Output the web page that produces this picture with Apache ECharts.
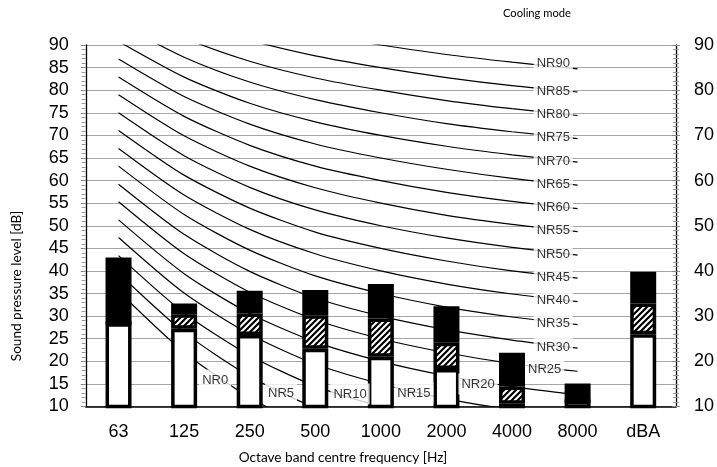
<!DOCTYPE html>
<html>
<head>
<meta charset="utf-8">
<script src="https://cdn.jsdelivr.net/npm/echarts@6/dist/echarts.min.js"></script>
<style>html,body{margin:0;padding:0;background:#fff}#c{width:717px;height:467px}</style>
</head>
<body>
<div id="c"></div>
<script>
// ---- data ----
const categories = ['63', '125', '250', '500', '1000', '2000', '4000', '8000', 'dBA'];
// top of each stacked segment [dB]
const whiteTop = [28.4, 27.2, 25.8, 22.8, 21.0, 18.3, 10.6, 11.2, 26.0];
const hatchTop = [28.4, 30.4, 30.6, 30.2, 29.5, 24.1, 14.4, 11.2, 32.8];
const barTotal = [43.0, 32.8, 35.6, 35.8, 37.1, 32.2, 21.9, 15.1, 39.8];
// NR curves (63 ... 8000 Hz)
const nrLevels = [0, 5, 10, 15, 20, 25, 30, 35, 40, 45, 50, 55, 60, 65, 70, 75, 80, 85, 90];
const nrValues = [
  [35.5, 22.0, 12.0, 4.8, 0, -3.5, -6.1, -8.0],
  [39.5, 26.4, 16.7, 9.7, 5, 1.6, -1.0, -2.9],
  [43.4, 30.7, 21.3, 14.5, 10, 6.7, 4.2, 2.3],
  [47.4, 35.1, 26.0, 19.4, 15, 11.7, 9.3, 7.5],
  [51.3, 39.4, 30.6, 24.3, 20, 16.8, 14.4, 12.6],
  [55.3, 43.8, 35.3, 29.2, 25, 21.9, 19.5, 17.8],
  [59.2, 48.1, 39.9, 34.0, 30, 27.0, 24.7, 22.9],
  [63.2, 52.5, 44.6, 38.9, 35, 32.0, 29.8, 28.1],
  [67.1, 56.8, 49.2, 43.8, 40, 37.1, 34.9, 33.2],
  [71.1, 61.2, 53.9, 48.6, 45, 42.2, 40.0, 38.4],
  [75.0, 65.5, 58.5, 53.5, 50, 47.3, 45.2, 43.5],
  [79.0, 69.9, 63.2, 58.4, 55, 52.3, 50.3, 48.7],
  [82.9, 74.2, 67.8, 63.2, 60, 57.4, 55.4, 53.8],
  [86.9, 78.6, 72.5, 68.1, 65, 62.5, 60.5, 59.0],
  [90.8, 82.9, 77.1, 73.0, 70, 67.6, 65.7, 64.1],
  [94.8, 87.3, 81.8, 77.9, 75, 72.6, 70.8, 69.3],
  [98.7, 91.6, 86.4, 82.7, 80, 77.7, 75.9, 74.4],
  [102.7, 96.0, 91.1, 87.6, 85, 82.8, 81.0, 79.6],
  [106.6, 100.3, 95.7, 92.5, 90, 87.9, 86.2, 84.7]
];
const yTicksLeft = { min: 10, max: 90, step: 5 };
const yTicksRight = { min: 10, max: 90, step: 10 };
// label anchor (category index) for each NR curve
const nrLabelAnchor = [2, 2, 4, 5, 6, 7, 7, 7, 7, 7, 7, 7, 7, 7, 7, 7, 7, 7, 7];

// ---- layout (label offsets, px) ----
const nrLabelOffset = [
  [-34.5, -17.5], [31.3, 17.1], [-30.8, -12.5], [-32.5, -5.5], [-34, -2.6], [-33, -2],
  [-24.3, -1], [-24.3, -1], [-24.3, -1], [-24.3, -1], [-24.3, -1], [-24.3, -1],
  [-24.3, -1], [-24.3, -1], [-24.3, -1], [-24.3, -1], [-24.3, -1], [-24.3, -1], [-24.3, -6]
];

// hatch tile: "/" stripes
function makeHatch() {
  const s = 6, c = document.createElement('canvas');
  c.width = s; c.height = s;
  const g = c.getContext('2d');
  g.fillStyle = '#fff'; g.fillRect(0, 0, s, s);
  g.strokeStyle = '#000'; g.lineWidth = 2.2; g.lineCap = 'square';
  g.beginPath();
  g.moveTo(-1, s + 1); g.lineTo(s + 1, -1);
  g.moveTo(-1, 1); g.lineTo(1, -1);
  g.moveTo(s - 1, s + 1); g.lineTo(s + 1, s - 1);
  g.stroke();
  return c;
}

const chart = echarts.init(document.getElementById('c'), null, { renderer: 'canvas' });
const AR = 'Liberation Sans, Arial, sans-serif';
const CAL = 'Lato, Open Sans, sans-serif';

const series = [];
nrLevels.forEach((lv, i) => {
  series.push({
    type: 'line', name: 'NR' + lv, data: nrValues[i], smooth: 0.25,
    symbol: 'none', clip: true, z: 2, silent: true,
    lineStyle: { color: '#000', width: 1.2 }
  });
});
const borderW = 3.5;
series.push({
  type: 'bar', name: 'white', stack: 'b', data: whiteTop, barWidth: 26, z: 3, clip: true,
  itemStyle: { color: '#fff', borderColor: '#000', borderWidth: borderW }
});
series.push({
  type: 'bar', name: 'hatch', stack: 'b', z: 3, clip: true,
  data: hatchTop.map((v, i) => +(v - whiteTop[i]).toFixed(2)),
  itemStyle: {
    color: { image: makeHatch(), repeat: 'repeat' },
    borderColor: '#000', borderWidth: borderW
  }
});
series.push({
  type: 'bar', name: 'black', stack: 'b', z: 3, clip: true,
  data: barTotal.map((v, i) => +(v - hatchTop[i]).toFixed(2)),
  itemStyle: { color: '#000', borderColor: '#000', borderWidth: borderW }
});
series.push({
  type: 'scatter', name: 'nrLabels', z: 10, clip: false, silent: true,
  symbolSize: 1, itemStyle: { color: 'rgba(0,0,0,0)' },
  data: nrLevels.map((lv, i) => ({
    value: [nrLabelAnchor[i], nrValues[i][nrLabelAnchor[i]]],
    label: { offset: nrLabelOffset[i] },
    name: 'NR' + lv
  })),
  label: {
    show: true, position: 'inside', formatter: p => p.name,
    fontFamily: AR, fontSize: 13, color: '#000',
    backgroundColor: '#fff', padding: [4, 3], align: 'center', verticalAlign: 'middle'
  }
});

chart.setOption({
  animation: false,
  backgroundColor: '#fff',
  grid: { left: 85.75, right: 38, top: 45, bottom: 60.5, containLabel: false },
  title: {
    text: 'Cooling mode', left: 503, top: 8, padding: 0,
    textStyle: { fontFamily: CAL, fontSize: 11.2, fontWeight: 'normal', color: '#000' }
  },
  xAxis: {
    type: 'category', data: categories, boundaryGap: true,
    axisLine: { lineStyle: { color: '#000', width: 1.5 } },
    axisTick: { show: false },
    axisLabel: { fontFamily: AR, fontSize: 18, color: '#000', margin: 17 },
    splitLine: { show: false }
  },
  yAxis: [
    {
      type: 'value', position: 'left', min: yTicksLeft.min, max: yTicksLeft.max, interval: yTicksLeft.step,
      axisLine: { show: true, lineStyle: { color: '#000', width: 1.3 } },
      axisTick: { show: true, length: 5, lineStyle: { color: '#888' } },
      minorTick: { show: true, splitNumber: 5, length: 4, lineStyle: { color: '#999' } },
      axisLabel: { fontFamily: AR, fontSize: 18, color: '#000', margin: 17 },
      splitLine: { show: true, lineStyle: { color: '#a6a6a6', width: 1 } }
    },
    {
      type: 'value', position: 'right', min: yTicksRight.min, max: yTicksRight.max, interval: yTicksRight.step,
      axisLine: { show: true, lineStyle: { color: '#000', width: 1.3 } },
      axisTick: { show: true, length: 4, lineStyle: { color: '#888' } },
      minorTick: { show: true, splitNumber: 10, length: 3, lineStyle: { color: '#999' } },
      axisLabel: { fontFamily: AR, fontSize: 18, color: '#000', margin: 18 },
      splitLine: { show: false }
    },
    {
      type: 'value', position: 'right', min: yTicksRight.min, max: yTicksRight.max, interval: yTicksRight.step,
      axisLine: { show: false },
      axisTick: { show: true, inside: true, length: 4, lineStyle: { color: '#888' } },
      minorTick: { show: true, splitNumber: 10, length: 3, lineStyle: { color: '#999' } },
      axisLabel: { show: false },
      splitLine: { show: false }
    }
  ],
  graphic: [
    {
      type: 'text', x: 17, y: 286, rotation: Math.PI / 2,
      style: { text: 'Sound pressure level [dB]', fontFamily: CAL, fontSize: 13.6, fill: '#000', align: 'center', verticalAlign: 'middle' }
    },
    {
      type: 'text', x: 343, y: 458,
      style: { text: 'Octave band centre frequency [Hz]', fontFamily: CAL, fontSize: 13.6, fill: '#000', align: 'center', verticalAlign: 'middle' }
    }
  ],
  series: series
});
</script>
</body>
</html>
